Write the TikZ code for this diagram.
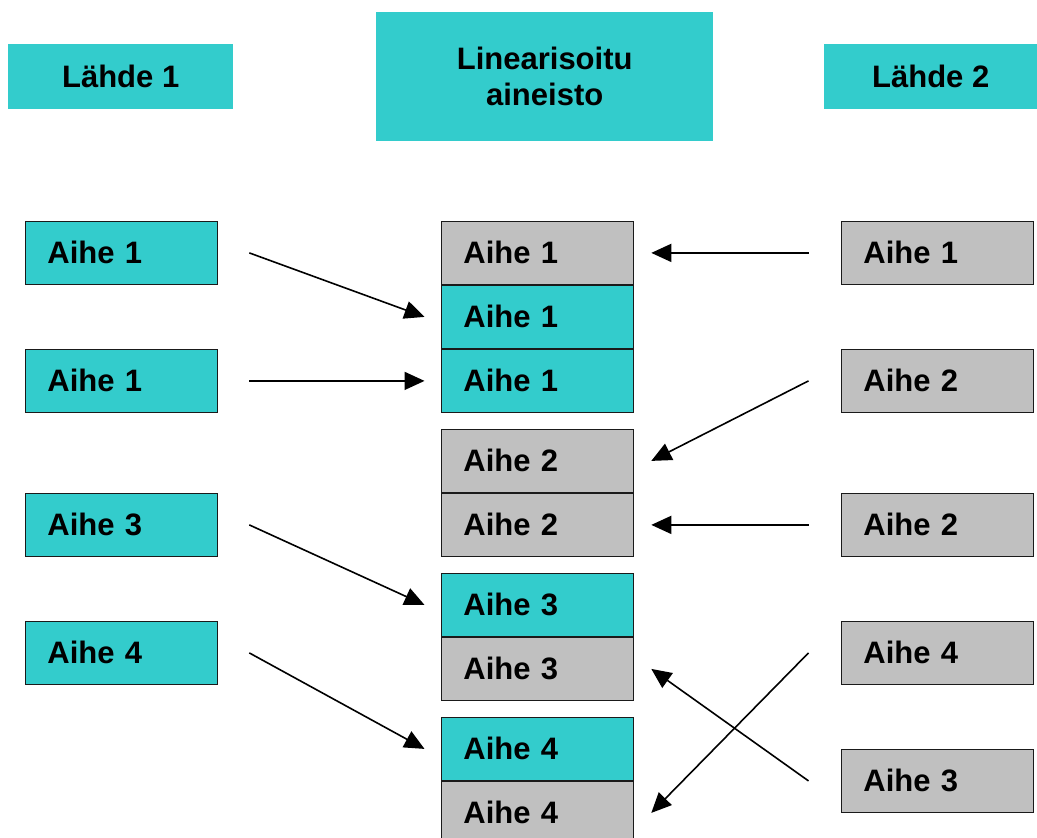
\documentclass[tikz,border=0pt]{standalone}
\usepackage{fontspec}
\setmainfont{Liberation Sans}
\usetikzlibrary{arrows.meta}
\definecolor{teal}{HTML}{33CCCC}
\definecolor{lgray}{HTML}{C0C0C0}
\definecolor{edge}{HTML}{1A1A1A}
\begin{document}
\begin{tikzpicture}[x=1pt,y=-1pt,
  every node/.style={font=\fontsize{31}{36}\selectfont\bfseries},
  header/.style={fill=teal, draw=none, inner sep=0pt, align=center, anchor=north west},
  topic/.style={draw=edge, line width=1.8pt, inner xsep=22pt, inner ysep=0pt,
    text width=148pt, align=left, minimum height=63pt, text height=21pt, text depth=0pt,
    anchor=north west},
  tbox/.style={topic, fill=teal},
  gbox/.style={topic, fill=lgray},
  link/.style={line width=1.6pt, -{Triangle[length=20pt,width=18pt]}}]
\useasboundingbox (0,0) rectangle (1037,838);
\begin{scope}
\clip (0,0) rectangle (1037,838);

% column headings
\node[header, minimum width=225pt, minimum height=65pt] (h1) at (8,44) {Lähde 1};
\node[header, minimum width=337pt, minimum height=129pt] (h0) at (376,12) {Linearisoitu\\aineisto};
\node[header, minimum width=213pt, minimum height=65pt] (h2) at (824,44) {Lähde 2};

% source 1
\node[tbox] (l1) at (24.5,220.5) {Aihe 1};
\node[tbox] (l2) at (24.5,348.5) {Aihe 1};
\node[tbox] (l3) at (24.5,492.5) {Aihe 3};
\node[tbox] (l4) at (24.5,620.5) {Aihe 4};

% linearised material
\node[gbox] (m1) at (440.5,220.5) {Aihe 1};
\node[tbox] (m2) at (440.5,284.5) {Aihe 1};
\node[tbox] (m3) at (440.5,348.5) {Aihe 1};
\node[gbox] (m4) at (440.5,428.5) {Aihe 2};
\node[gbox] (m5) at (440.5,492.5) {Aihe 2};
\node[tbox] (m6) at (440.5,572.5) {Aihe 3};
\node[gbox] (m7) at (440.5,636.5) {Aihe 3};
\node[tbox] (m8) at (440.5,716.5) {Aihe 4};
\node[gbox] (m9) at (440.5,780.5) {Aihe 4};

% source 2
\node[gbox] (r1) at (840.5,220.5) {Aihe 1};
\node[gbox] (r2) at (840.5,348.5) {Aihe 2};
\node[gbox] (r3) at (840.5,492.5) {Aihe 2};
\node[gbox] (r4) at (840.5,620.5) {Aihe 4};
\node[gbox] (r5) at (840.5,748.5) {Aihe 3};

% links from source 1
\draw[link] ([xshift=31pt]l1.east) -- ([xshift=-16pt]m2.west);
\draw[link] ([xshift=31pt]l2.east) -- ([xshift=-16pt]m3.west);
\draw[link] ([xshift=31pt]l3.east) -- ([xshift=-16pt]m6.west);
\draw[link] ([xshift=31pt]l4.east) -- ([xshift=-16pt]m8.west);

% links from source 2
\draw[link] ([xshift=-32pt]r1.west) -- ([xshift=17pt]m1.east);
\draw[link] ([xshift=-32pt]r2.west) -- ([xshift=17pt]m4.east);
\draw[link] ([xshift=-32pt]r3.west) -- ([xshift=17pt]m5.east);
\draw[link] ([xshift=-32pt]r4.west) -- ([xshift=17pt]m9.east);
\draw[link] ([xshift=-32pt]r5.west) -- ([xshift=17pt]m7.east);
\end{scope}
\end{tikzpicture}
\end{document}
